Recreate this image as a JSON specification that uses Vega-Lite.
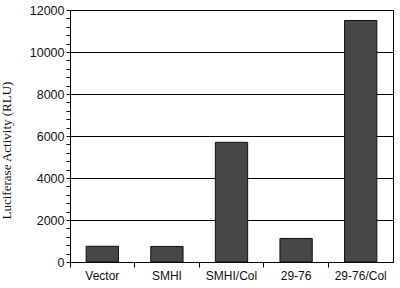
{
  "$schema": "https://vega.github.io/schema/vega-lite/v6.json",
  "autosize": "none",
  "width": 323,
  "height": 252,
  "padding": {"left": 70, "top": 10, "right": 7, "bottom": 26},
  "background": "white",
  "config": {"view": {"stroke": "black", "strokeWidth": 1}},
  "data": {"values": [
    {"group": "Vector", "rlu": 750},
    {"group": "SMHI", "rlu": 740},
    {"group": "SMHI/Col", "rlu": 5700},
    {"group": "29-76", "rlu": 1120},
    {"group": "29-76/Col", "rlu": 11500}
  ]},
  "mark": {"type": "bar", "color": "#474747", "stroke": "#111", "strokeWidth": 1},
  "encoding": {
    "x": {
      "field": "group", "type": "nominal", "sort": null,
      "scale": {"paddingInner": 0.5, "paddingOuter": 0.25},
      "axis": {
        "title": null, "labelAngle": 0, "bandPosition": -0.5,
        "labelFont": "Liberation Sans", "labelFontSize": 12, "labelColor": "#111",
        "tickColor": "black", "tickSize": 5, "domainColor": "black", "labelPadding": 3
      }
    },
    "y": {
      "field": "rlu", "type": "quantitative",
      "scale": {"domain": [0, 12000], "nice": false},
      "axis": {
        "title": "Luciferase Activity (RLU)",
        "titleFont": "Liberation Serif", "titleFontSize": 13, "titleFontWeight": "normal", "titleColor": "#111",
        "titleY": 140, "titleX": -57,
        "values": [0,400,800,1200,1600,2000,2400,2800,3200,3600,4000,4400,4800,5200,5600,6000,6400,6800,7200,7600,8000,8400,8800,9200,9600,10000,10400,10800,11200,11600,12000],
        "labelExpr": "datum.value % 2000 === 0 ? datum.value : ''",
        "labelFont": "Liberation Sans", "labelFontSize": 12.5, "labelColor": "#111",
        "tickColor": "black", "tickSize": 4, "domainColor": "black",
        "grid": true,
        "gridColor": {"condition": {"test": "datum.value % 2000 === 0", "value": "black"}, "value": null},
        "gridOpacity": 1,
        "labelPadding": 2
      }
    }
  }
}
